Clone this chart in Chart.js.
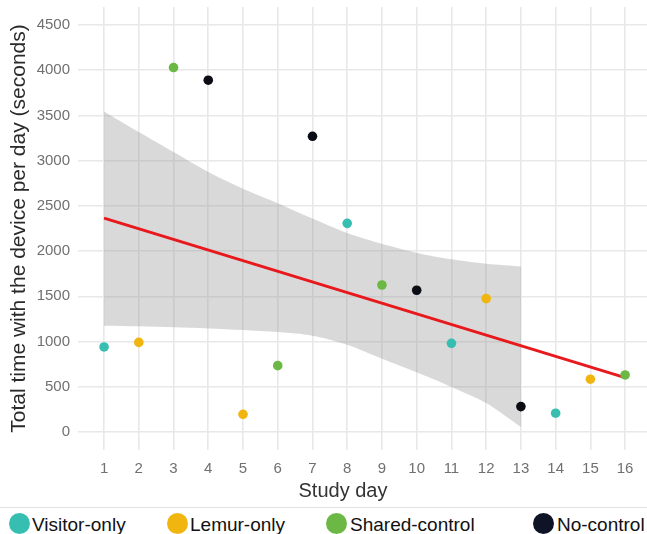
<!DOCTYPE html>
<html>
<head>
<meta charset="utf-8">
<script src="https://cdn.jsdelivr.net/npm/chart.js@4.4.1/dist/chart.umd.min.js"></script>
<style>
  body { margin: 0; background: #fff; width: 647px; height: 534px; overflow: hidden; position: relative;
         font-family: "Liberation Sans", Arial, sans-serif; }
  #wrap { position: absolute; left: 0; top: 0; width: 647px; height: 505px; }
  #xtitle { position: absolute; top: 478px; left: 243px; width: 200px; text-align: center;
            font-size: 20px; line-height: 24px; color: #333; }
  #legend { position: absolute; left: 0; top: 507px; width: 647px; height: 27px; border-top: 1px solid #e2e2e2; }
  .dot { position: absolute; top: 5px; width: 21px; height: 21px; border-radius: 50%; }
  .lab { position: absolute; top: 6px; font-size: 19px; line-height: 22px; color: #111; white-space: nowrap; }
</style>
</head>
<body>
<div id="wrap"><canvas id="chart" width="647" height="505"></canvas></div>
<div id="xtitle">Study day</div>
<div id="legend"></div>
<script>
const days = [1, 2, 3, 4, 5, 6, 7, 8, 9, 10, 11, 12, 13, 14, 15, 16];
const times = [940, 990, 4030, 3890, 195, 733, 3270, 2307, 1625, 1567, 980, 1474, 280, 207, 583, 630];
const conditions = ['Visitor-only', 'Lemur-only', 'Shared-control', 'No-control', 'Lemur-only', 'Shared-control',
  'No-control', 'Visitor-only', 'Shared-control', 'No-control', 'Visitor-only', 'Lemur-only', 'No-control',
  'Visitor-only', 'Lemur-only', 'Shared-control'];

const groupNames = ['Visitor-only', 'Lemur-only', 'Shared-control', 'No-control'];
const groupColors = ['#36bfb1', '#f0b60f', '#6cb845', '#0b0d14'];
const legendColors = ['#36bfb1', '#f0b60f', '#6cb845', '#0e1425'];

// fitted line and its band
const trendDays = [1, 16];
const trendValues = [2365, 600];
const bandDays = [1, 2, 3, 4, 5, 6, 7, 8, 9, 10, 11, 12, 13];
const bandUpper = [3545, 3317, 3096, 2875, 2690, 2530, 2360, 2200, 2080, 1980, 1910, 1860, 1830];
const bandLower = [1175, 1168, 1158, 1145, 1128, 1105, 1065, 965, 810, 660, 498, 320, 55];

const xTicks = days;
const yTicks = [0, 500, 1000, 1500, 2000, 2500, 3000, 3500, 4000, 4500];

const pts = (xs, ys) => xs.map((x, i) => ({ x: x, y: ys[i] }));

const pointSets = groupNames.map((g, gi) => ({
  label: g,
  data: days.filter((d, i) => conditions[i] === g).map(d => ({ x: d, y: times[days.indexOf(d)] })),
  backgroundColor: groupColors[gi],
  borderWidth: 0,
  pointRadius: 4.8,
  order: 0
}));

const noPad = s => { s.paddingLeft = 0; s.paddingRight = 0; s.paddingTop = 0; s.paddingBottom = 0; };

new Chart(document.getElementById('chart'), {
  type: 'scatter',
  data: {
    datasets: [
      ...pointSets,
      {
        label: 'trend',
        data: pts(trendDays, trendValues),
        showLine: true,
        borderColor: '#e8191c',
        borderWidth: 3,
        pointRadius: 0,
        order: 1
      },
      {
        label: 'upper',
        data: pts(bandDays, bandUpper),
        showLine: true,
        borderWidth: 0,
        borderColor: 'rgba(0,0,0,0)',
        pointRadius: 0,
        tension: 0.3,
        fill: '+1',
        backgroundColor: 'rgba(150,150,150,0.36)',
        order: 2
      },
      {
        label: 'lower',
        data: pts(bandDays, bandLower),
        showLine: true,
        borderWidth: 0,
        borderColor: 'rgba(0,0,0,0)',
        pointRadius: 0,
        tension: 0.3,
        order: 3
      }
    ]
  },
  options: {
    responsive: false,
    animation: false,
    layout: { autoPadding: false, padding: { top: 7, left: 0, right: 0, bottom: 0 } },
    plugins: { legend: { display: false }, tooltip: { enabled: false } },
    scales: {
      x: {
        type: 'linear',
        min: 0.25,
        max: 16.63,
        afterBuildTicks: s => { s.ticks = xTicks.map(v => ({ value: v })); },
        afterFit: s => { s.height = 55; noPad(s); },
        border: { display: false },
        grid: { color: '#e8e8e8', lineWidth: 1.6, drawTicks: false },
        ticks: { padding: 10, color: '#707070', font: { size: 15, family: '"Liberation Sans", Arial, sans-serif' } }
      },
      y: {
        min: -200,
        max: 4700,
        afterBuildTicks: s => { s.ticks = yTicks.map(v => ({ value: v })); },
        afterFit: s => { s.width = 78; noPad(s); },
        border: { display: false },
        grid: { color: '#e8e8e8', lineWidth: 1.6, drawTicks: false },
        ticks: {
          padding: 8, color: '#707070', font: { size: 15, family: '"Liberation Sans", Arial, sans-serif' },
          callback: v => String(v)
        },
        title: {
          display: true,
          text: 'Total time with the device per day (seconds)',
          color: '#2a2a2a',
          padding: { top: 7, bottom: 0 },
          font: { size: 21, family: '"Liberation Sans", Arial, sans-serif' }
        }
      }
    }
  }
});

const legend = document.getElementById('legend');
const dotLeft = [9, 167, 326, 533];
const labLeft = [32, 190, 350, 557];
groupNames.forEach((g, i) => {
  const d = document.createElement('div');
  d.className = 'dot';
  d.style.left = dotLeft[i] + 'px';
  d.style.background = legendColors[i];
  legend.appendChild(d);
  const t = document.createElement('div');
  t.className = 'lab';
  t.style.left = labLeft[i] + 'px';
  t.textContent = g;
  legend.appendChild(t);
});
</script>
</body>
</html>
